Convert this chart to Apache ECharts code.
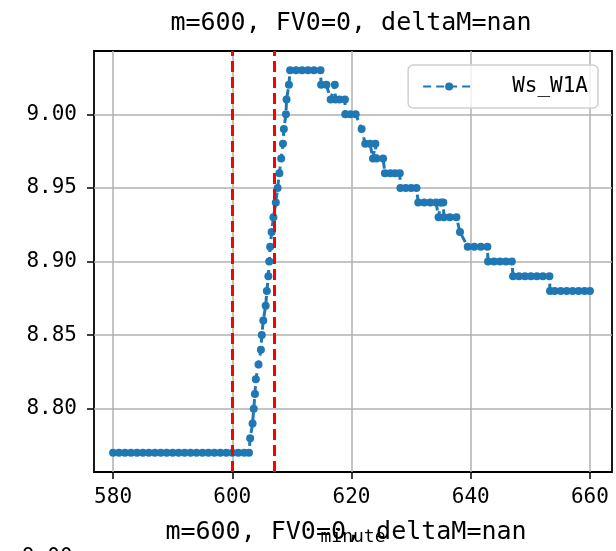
<!DOCTYPE html>
<html>
<head>
<meta charset="utf-8">
<script src="https://cdn.jsdelivr.net/npm/echarts@6/dist/echarts.min.js"></script>
<style>
  html, body { margin: 0; padding: 0; background: #fff; }
  #chart { width: 616px; height: 551px; }
</style>
</head>
<body>
<div id="chart"></div>
<script>
// 数据
const minutes = [
  580, 581, 582, 583, 584, 585, 586, 587, 588, 589, 590, 591, 592, 593, 594, 595, 596, 597, 598, 599, 600, 601, 602, 602.8,
  603.0, 603.4, 603.6, 603.8, 603.95, 604.4, 604.8, 604.95, 605.2, 605.6, 605.8, 606.05, 606.2, 606.35, 606.6, 606.9,
  607.3, 607.6, 607.9, 608.2, 608.5, 608.65, 609.0, 609.1, 609.5, 609.7,
  610.7, 611.7, 612.7, 613.7, 614.8,
  614.9, 615.8, 616.5, 617.2, 617.3, 618.0, 618.9,
  618.95, 619.8, 620.7, 621.7,
  622.3, 623.1, 623.6, 624.0, 624.2, 625.3,
  625.6, 626.5, 627.3, 628.1,
  628.2, 629.1, 630.0, 630.9,
  631.2, 632.2, 633.2, 634.2, 634.6, 635.0, 635.4,
  635.5, 636.5, 637.6, 638.2,
  639.5, 640.6, 641.7, 642.8,
  642.9, 643.9, 644.9, 645.9, 646.9,
  647.1, 648.1, 649.1, 650.1, 651.1, 652.1, 653.2,
  653.3, 654.1, 655.1, 656.1, 657.1, 658.1, 659.1, 660
];
const wsW1A = [
  8.77, 8.77, 8.77, 8.77, 8.77, 8.77, 8.77, 8.77, 8.77, 8.77, 8.77, 8.77, 8.77, 8.77, 8.77, 8.77, 8.77, 8.77, 8.77, 8.77, 8.77, 8.77, 8.77, 8.77,
  8.78, 8.79, 8.80, 8.81, 8.82, 8.83, 8.84, 8.85, 8.86, 8.87, 8.88, 8.89, 8.90, 8.91, 8.92, 8.93,
  8.94, 8.95, 8.96, 8.97, 8.98, 8.99, 9.00, 9.01, 9.02, 9.03,
  9.03, 9.03, 9.03, 9.03, 9.03,
  9.02, 9.02, 9.01, 9.02, 9.01, 9.01, 9.01,
  9.00, 9.00, 9.00, 8.99,
  8.98, 8.98, 8.97, 8.98, 8.97, 8.97,
  8.96, 8.96, 8.96, 8.96,
  8.95, 8.95, 8.95, 8.95,
  8.94, 8.94, 8.94, 8.94, 8.93, 8.94, 8.94,
  8.93, 8.93, 8.93, 8.92,
  8.91, 8.91, 8.91, 8.91,
  8.90, 8.90, 8.90, 8.90, 8.90,
  8.89, 8.89, 8.89, 8.89, 8.89, 8.89, 8.89,
  8.88, 8.88, 8.88, 8.88, 8.88, 8.88, 8.88, 8.88
];
const vLines = [600, 607];
const xTicks = [580, 600, 620, 640, 660];
const yTicks = [8.80, 8.85, 8.90, 8.95, 9.00];
const titleText = "m=600, FV0=0, deltaM=nan";
const seriesName = "Ws_W1A";

const FONT = "DejaVu Sans Mono";
const myChart = echarts.init(document.getElementById("chart"));

const option = {
  animation: false,
  title: {
    text: titleText,
    left: 346,
    top: 6,
    textAlign: "center",
    textStyle: { fontFamily: FONT, fontSize: 25, fontWeight: "normal", color: "#000" }
  },
  legend: {
    right: 18,
    top: 65,
    data: [seriesName],
    itemWidth: 52,
    itemHeight: 10,
    padding: [11, 10, 11, 14],
    borderColor: "#d0d0d0",
    borderWidth: 1.5,
    borderRadius: 5,
    backgroundColor: "rgba(255,255,255,0.8)",
    textStyle: { fontFamily: FONT, fontSize: 21, color: "#000", padding: [0, 0, 0, 32] }
  },
  grid: { left: 94, right: 4, top: 51, bottom: 79, show: true, borderColor: "#000", borderWidth: 1.8 },
  xAxis: {
    type: "value",
    min: 576.8,
    max: 663.7,
    axisLine: { show: false },
    axisTick: { show: true, customValues: xTicks, length: 7, lineStyle: { color: "#000", width: 1.5 } },
    axisLabel: { customValues: xTicks, fontFamily: FONT, fontSize: 21, color: "#000", margin: 15 },
    splitLine: { show: true, lineStyle: { color: "#b0b0b0", width: 1.5 } }
  },
  yAxis: {
    type: "value",
    min: 8.757,
    max: 9.043,
    axisLine: { show: false },
    axisTick: { show: true, customValues: yTicks, length: 7, lineStyle: { color: "#000", width: 1.5 } },
    axisLabel: {
      customValues: yTicks,
      fontFamily: FONT, fontSize: 21, color: "#000", margin: 17,
      formatter: (v) => v.toFixed(2)
    },
    splitLine: { show: true, lineStyle: { color: "#b0b0b0", width: 1.5 } }
  },
  series: [
    {
      name: seriesName,
      type: "line",
      data: minutes.map((m, i) => [m, wsW1A[i]]),
      color: "#1f77b4",
      symbol: "circle",
      symbolSize: 8,
      showAllSymbol: true,
      lineStyle: { width: 3, type: [8, 5] },
      markLine: {
        silent: true,
        symbol: "none",
        label: { show: false },
        lineStyle: { color: "#ff0000", type: [11, 5], width: 3 },
        data: vLines.map((v) => ({ xAxis: v }))
      },
      z: 3
    }
  ],
  graphic: [
    {
      type: "text",
      style: {
        x: 346, y: 532, text: titleText, fontFamily: FONT, fontSize: 25, fill: "#000",
        align: "center", verticalAlign: "middle"
      }
    },
    {
      type: "text",
      style: {
        x: 353, y: 537, text: "minute", fontFamily: FONT, fontSize: 18, fill: "#000",
        align: "center", verticalAlign: "middle"
      }
    },
    {
      type: "text",
      style: { x: 22, y: 547, text: "9.00", fontFamily: FONT, fontSize: 21, fill: "#000" }
    }
  ]
};
myChart.setOption(option);
</script>
</body>
</html>
